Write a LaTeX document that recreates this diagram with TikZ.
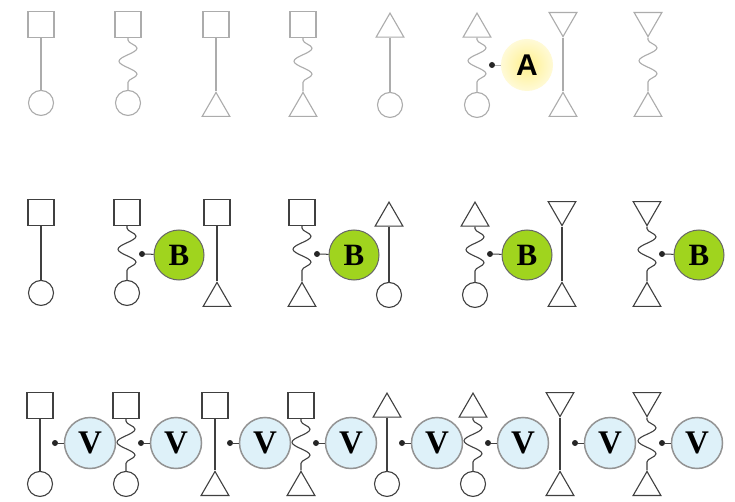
\documentclass[tikz,border=0pt]{standalone}
\usepackage{fontspec}
\setmainfont{Liberation Serif}
\newfontfamily\asans{Liberation Sans}
\usetikzlibrary{shapes.geometric,decorations.pathmorphing}
\definecolor{bgreen}{RGB}{160,212,30}
\definecolor{vblue}{RGB}{222,241,249}
\definecolor{aglowin}{RGB}{255,240,140}
\definecolor{aglowout}{RGB}{255,250,215}
\tikzset{
  sq/.style={draw,rectangle,minimum size=26pt,inner sep=0pt},
  ci/.style={draw,circle,minimum size=25pt,inner sep=0pt},
  tu/.style={draw,regular polygon,regular polygon sides=3,minimum size=32pt,inner sep=0pt},
  td/.style={tu,shape border rotate=180},
  ln/.style={},
  zz/.style={decorate,decoration={snake,amplitude=9pt,segment length=26pt,pre length=2pt,post length=2pt}},
  dotn/.style={circle,fill=black!85,draw=none,inner sep=0pt,minimum size=6pt},
  bnode/.style={circle,draw=black!60,line width=1pt,fill=bgreen,minimum size=50pt,inner sep=0pt,
     font=\bfseries\fontsize{31}{31}\selectfont,text=black},
  vnode/.style={circle,draw=gray!85,line width=1.5pt,fill=vblue,minimum size=51pt,inner sep=0pt,
     font=\bfseries\fontsize{33}{33}\selectfont,text=black},
  anode/.style={circle,draw=none,shading=radial,inner color=aglowin,outer color=aglowout,minimum size=52pt,inner sep=0pt,
     font=\asans\bfseries\fontsize{30}{30}\selectfont,text=black},
}
\newcommand{\glyph}[7]{%
  \node[#5,anchor=north] (#1t) at (#2,#3) {};
  \node[#6,anchor=south] (#1b) at (#2,#4) {};
  \draw[#7] (#1t.south) -- (#1b.north);}
\begin{document}
\begin{tikzpicture}[x=1pt,y=-1pt]
\useasboundingbox (0,0) rectangle (735,502);
\fill[white] (0,0) rectangle (735,502);
% Row 1
\begin{scope}[gray!65,line width=1.1pt]
\glyph{a1}{41}{11}{116}{sq}{ci}{ln}
\glyph{a2}{128}{11}{116}{sq}{ci}{zz}
\glyph{a3}{216}{11}{117}{sq}{tu}{ln}
\glyph{a4}{303}{11}{117}{sq}{tu}{zz}
\glyph{a5}{390}{12}{118}{tu}{ci}{ln}
\glyph{a6}{477}{12}{118}{tu}{ci}{zz}
\glyph{a7}{563}{12}{117}{td}{tu}{ln}
\glyph{a8}{648}{12}{117}{td}{tu}{zz}
\end{scope}
\node[anode] (A) at (527,65) {A};
\node[dotn] (ad) at (492,65) {};
\draw[gray!60,line width=0.6pt] (ad) -- (A);
% Row 2
\begin{scope}[black!75,line width=1.1pt]
\glyph{b1}{41}{199}{306}{sq}{ci}{ln}
\glyph{b2}{127}{199}{306}{sq}{ci}{zz}
\glyph{b3}{217}{199}{307}{sq}{tu}{ln}
\glyph{b4}{302}{199}{307}{sq}{tu}{zz}
\glyph{b5}{389}{201}{308}{tu}{ci}{ln}
\glyph{b6}{475}{201}{308}{tu}{ci}{zz}
\glyph{b7}{562}{201}{307}{td}{tu}{ln}
\glyph{b8}{647}{201}{307}{td}{tu}{zz}
\end{scope}
\foreach \c/\x in {2/127,4/302,6/475,8/647}{
  \node[dotn] (bd\c) at (\x+15,254) {};
  \node[bnode] (B\c) at (\x+52,255) {B};
  \draw[black!75,line width=1pt] (bd\c) -- (B\c);
}
% Row 3
\begin{scope}[black!75,line width=1.1pt]
\glyph{c1}{40}{392}{497}{sq}{ci}{ln}
\glyph{c2}{126}{392}{497}{sq}{ci}{zz}
\glyph{c3}{215}{392}{496}{sq}{tu}{ln}
\glyph{c4}{301}{392}{496}{sq}{tu}{zz}
\glyph{c5}{387}{392}{497}{tu}{ci}{ln}
\glyph{c6}{473}{392}{497}{tu}{ci}{zz}
\glyph{c7}{560}{392}{496}{td}{tu}{ln}
\glyph{c8}{647}{392}{496}{td}{tu}{zz}
\end{scope}
\foreach \c/\x in {1/40,2/126,3/215,4/301,5/387,6/473,7/560,8/647}{
  \node[dotn] (cd\c) at (\x+15,443) {};
  \node[vnode] (V\c) at (\x+50,443) {V};
  \draw[black!75,line width=1pt] (cd\c) -- (V\c);
}
\end{tikzpicture}
\end{document}
